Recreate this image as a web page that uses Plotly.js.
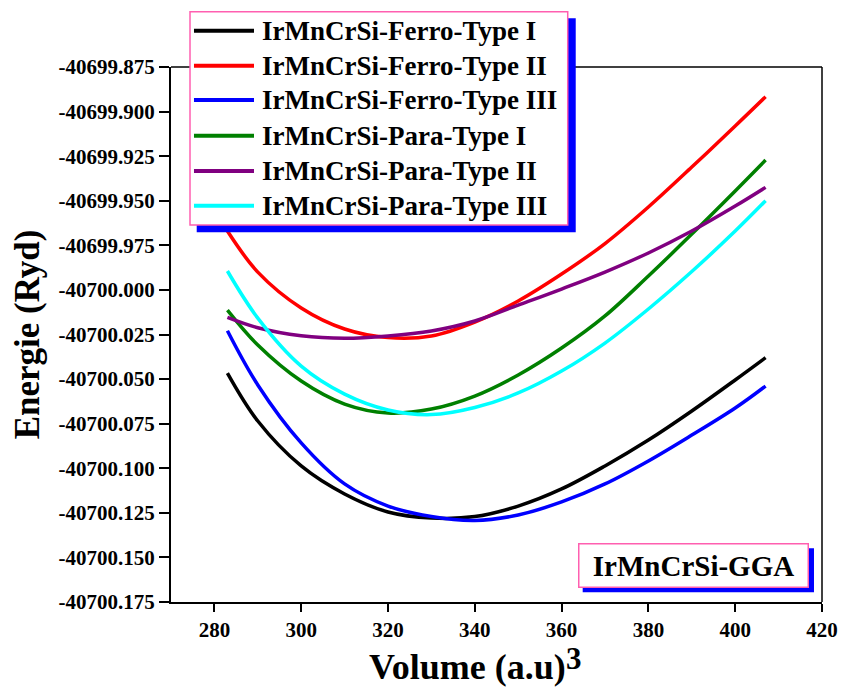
<!DOCTYPE html>
<html><head><meta charset="utf-8">
<script src="https://cdn.plot.ly/plotly-3.0.1.min.js"></script>
<style>body{margin:0;background:#fff}#chart{width:841px;height:691px}</style>
</head><body><div id="chart"></div>
<script>
// Volume (a.u)^3
const volume = [283, 290, 300, 310, 320, 330, 340, 350, 360, 370, 380, 390, 400, 407];

// Energies (Ryd)
const ferroTypeI   = [-40700.0466, -40700.0735, -40700.0987, -40700.1144, -40700.1245, -40700.1279, -40700.1271, -40700.1212, -40700.1116, -40700.0987, -40700.0842, -40700.0679, -40700.0505, -40700.0380];
const ferroTypeII  = [-40699.9670, -40699.9900, -40700.0101, -40700.0219, -40700.0267, -40700.0258, -40700.0180, -40700.0062, -40699.9911, -40699.9740, -40699.9535, -40699.9311, -40699.9081, -40699.8917];
const ferroTypeIII = [-40700.0229, -40700.0533, -40700.0858, -40700.1088, -40700.1212, -40700.1271, -40700.1293, -40700.1262, -40700.1189, -40700.1088, -40700.0959, -40700.0814, -40700.0662, -40700.0539];
const paraTypeI    = [-40700.0113, -40700.0309, -40700.0511, -40700.0640, -40700.0690, -40700.0668, -40700.0595, -40700.0477, -40700.0326, -40700.0146, -40699.9922, -40699.9687, -40699.9445, -40699.9272];
const paraTypeII   = [-40700.0154, -40700.0212, -40700.0257, -40700.0271, -40700.0258, -40700.0230, -40700.0174, -40700.0085, -40699.9995, -40699.9900, -40699.9793, -40699.9670, -40699.9530, -40699.9425];
const paraTypeIII  = [-40699.9894, -40700.0158, -40700.0427, -40700.0584, -40700.0673, -40700.0699, -40700.0659, -40700.0578, -40700.0455, -40700.0298, -40700.0107, -40699.9897, -40699.9670, -40699.9500];

const seriesNames = ['IrMnCrSi-Ferro-Type I', 'IrMnCrSi-Ferro-Type II', 'IrMnCrSi-Ferro-Type III',
                     'IrMnCrSi-Para-Type I', 'IrMnCrSi-Para-Type II', 'IrMnCrSi-Para-Type III'];
const seriesValues = [ferroTypeI, ferroTypeII, ferroTypeIII, paraTypeI, paraTypeII, paraTypeIII];
const seriesColors = ['#000000', '#ff0000', '#0000ff', '#008000', '#800080', '#00ffff'];

const xTickValues = [280, 300, 320, 340, 360, 380, 400, 420];
const yTickValues = [-40699.875, -40699.900, -40699.925, -40699.950, -40699.975, -40700.000, -40700.025,
                     -40700.050, -40700.075, -40700.100, -40700.125, -40700.150, -40700.175];
const yTickLabels = ['-40699.875', '-40699.900', '-40699.925', '-40699.950', '-40699.975', '-40700.000', '-40700.025',
                     '-40700.050', '-40700.075', '-40700.100', '-40700.125', '-40700.150', '-40700.175'];
const xTitleText = 'Volume (a.u)';
const xTitleExponent = '3';

const serif = 'Liberation Serif, Times New Roman, serif';
const pink = '#ff5fb0';

const traces = seriesValues.map((vals, i) => ({
  x: volume, y: vals, type: 'scatter', mode: 'lines', name: seriesNames[i],
  line: {color: seriesColors[i], width: 3.5, shape: 'spline', smoothing: 1}
}));

// legend box (drawn as shapes + text so its spacing matches the original)
const legRowY = [1.0679, 1.0025, 0.9383, 0.8716, 0.8056, 0.7407];
const shapes = [
  {type: 'rect', xref: 'paper', yref: 'paper', x0: 0.0395, x1: 0.6217, y0: 0.691, y1: 1.091,
   fillcolor: '#0000ff', line: {width: 0}, layer: 'above'},
  {type: 'rect', xref: 'paper', yref: 'paper', x0: 0.0292, x1: 0.6094, y0: 0.7047, y1: 1.1034,
   fillcolor: '#ffffff', line: {color: pink, width: 1.5}, layer: 'above'},
  {type: 'rect', xref: 'paper', yref: 'paper', x0: 0.6324, x1: 0.9877, y0: 0.0181, y1: 0.1004,
   fillcolor: '#0000ff', line: {width: 0}, layer: 'above'},
  {type: 'line', xref: 'paper', yref: 'paper', x0: 0, x1: 1, y0: 1, y1: 1, line: {color: '#000', width: 1.5}, layer: 'below'},
  {type: 'line', xref: 'paper', yref: 'paper', x0: 1, x1: 1, y0: 0, y1: 1, line: {color: '#000', width: 1.5}, layer: 'below'}
];
const annotations = [
  {text: 'IrMnCrSi-GGA', xref: 'paper', yref: 'paper', x: 0.8023, y: 0.0686, xanchor: 'center', yanchor: 'middle',
   showarrow: false, font: {family: serif, size: 29, weight: 700, color: '#000'},
   bgcolor: '#fff', bordercolor: pink, borderwidth: 1.5, width: 226, height: 40, borderpad: 1},
  {text: xTitleText, xref: 'paper', yref: 'paper', x: 0.4555, y: -0.1215, xanchor: 'center', yanchor: 'middle',
   showarrow: false, font: {family: serif, size: 36, weight: 700, color: '#000'}},
  {text: xTitleExponent, xref: 'paper', yref: 'paper', x: 0.619, y: -0.1047, xanchor: 'center', yanchor: 'middle',
   showarrow: false, font: {family: serif, size: 31, weight: 700, color: '#000'}}
];
seriesNames.forEach((name, i) => {
  shapes.push({type: 'line', xref: 'paper', yref: 'paper', x0: 0.0353, x1: 0.1275, y0: legRowY[i], y1: legRowY[i],
               line: {color: seriesColors[i], width: 4}, layer: 'above'});
  annotations.push({text: name, xref: 'paper', yref: 'paper', x: 0.1367, y: legRowY[i], xanchor: 'left', yanchor: 'middle',
                    showarrow: false, font: {family: serif, size: 27, weight: 700, color: '#000'}});
});

const layout = {
  width: 841, height: 691,
  margin: {l: 171, r: 19, t: 67, b: 89, pad: 0},
  paper_bgcolor: '#fff', plot_bgcolor: '#fff',
  font: {family: serif, color: '#000', weight: 700},
  showlegend: false,
  xaxis: {
    range: [270, 420], tickvals: xTickValues, ticks: 'outside', ticklen: 8, tickwidth: 2, tickcolor: '#000',
    showline: true, linewidth: 2, linecolor: '#000', showgrid: false, zeroline: false,
    tickfont: {family: serif, size: 21, weight: 700, color: '#000'}
  },
  yaxis: {
    range: [-40700.175, -40699.875], tickvals: yTickValues, ticktext: yTickLabels,
    ticks: 'outside', ticklen: 10, tickwidth: 2, tickcolor: '#000',
    showline: true, linewidth: 2, linecolor: '#000', showgrid: false, zeroline: false,
    tickfont: {family: serif, size: 21, weight: 700, color: '#000'},
    title: {text: 'Energie (Ryd)', font: {family: serif, size: 35, weight: 700, color: '#000'}, standoff: 8}
  },
  shapes: shapes,
  annotations: annotations
};

Plotly.newPlot('chart', traces, layout, {staticPlot: true, displayModeBar: false});
</script>
</body></html>
